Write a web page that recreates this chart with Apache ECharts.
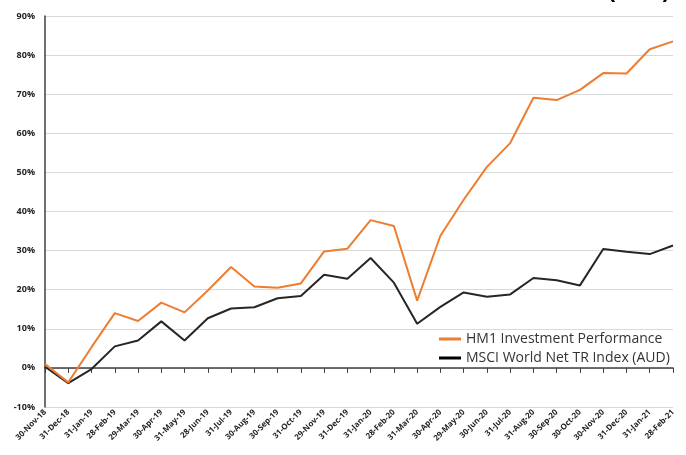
<!DOCTYPE html>
<html>
<head>
<meta charset="utf-8">
<script src="https://cdn.jsdelivr.net/npm/echarts@6/dist/echarts.min.js"></script>
<style>html,body{margin:0;padding:0;background:#fff}#c{width:686px;height:455px}</style>
</head>
<body>
<div id="c"></div>
<script>
var categories = ["30-Nov-18","31-Dec-18","31-Jan-19","28-Feb-19","29-Mar-19","30-Apr-19","31-May-19","28-Jun-19","31-Jul-19","30-Aug-19","30-Sep-19","31-Oct-19","29-Nov-19","31-Dec-19","31-Jan-20","28-Feb-20","31-Mar-20","30-Apr-20","29-May-20","30-Jun-20","31-Jul-20","31-Aug-20","30-Sep-20","30-Oct-20","30-Nov-20","31-Dec-20","31-Jan-21","28-Feb-21"];
var hm1 = [1.0,-3.7,5.3,14.0,12.0,16.7,14.2,19.8,25.8,20.8,20.5,21.6,29.8,30.5,37.8,36.3,17.2,33.8,43.0,51.4,57.5,69.1,68.5,71.1,75.4,75.3,81.5,83.5];
var msci = [0.3,-3.9,-0.3,5.5,7.0,11.9,7.0,12.7,15.2,15.5,17.8,18.4,23.8,22.8,28.1,21.8,11.3,15.6,19.3,18.2,18.8,23.0,22.4,21.1,30.4,29.7,29.1,31.3];
var yTicks = {min:-10, max:90, interval:10};
var seriesNames = ["HM1 Investment Performance","MSCI World Net TR Index (AUD)"];

var chart = echarts.init(document.getElementById('c'));
chart.setOption({
  animation:false,
  backgroundColor:'#ffffff',
  graphic:[{type:'text', right:16, top:-20.5, z:100, style:{text:'(AUD)', font:'bold 22px "Liberation Sans"', fill:'#000'}}],
  grid:{left:45, right:13, top:16, bottom:48, containLabel:false},
  legend:{
    orient:'vertical', left:434, top:327, itemGap:5, itemWidth:22, itemHeight:3,
    icon:'rect',
    textStyle:{fontFamily:'"Open Sans"', fontSize:14, color:'#333'},
    data:seriesNames
  },
  xAxis:[{
    type:'category', data:categories, boundaryGap:false, position:'bottom',
    axisLine:{show:false, onZero:false}, axisTick:{show:false},
    axisLabel:{rotate:45, fontSize:8, fontWeight:'bold', color:'#222', margin:4, interval:0, fontFamily:'"Open Sans"'},
    splitLine:{show:false}
  },{
    type:'category', data:categories, boundaryGap:false, position:'top',
    axisLine:{show:true, onZero:true, lineStyle:{color:'#404040', width:1.5}},
    axisTick:{show:true, inside:true, length:5, interval:0, lineStyle:{color:'#404040'}},
    axisLabel:{show:false}, splitLine:{show:false}
  }],
  yAxis:{
    type:'value', min:yTicks.min, max:yTicks.max, interval:yTicks.interval,
    axisLine:{show:true, lineStyle:{color:'#404040', width:1.5}},
    axisTick:{show:false},
    axisLabel:{formatter:'{value}%', fontSize:9, fontWeight:'bold', color:'#222', margin:10, fontFamily:'"Open Sans"'},
    splitLine:{lineStyle:{color:'#d9d9d9', width:1}}
  },
  series:[
    {name:seriesNames[0], type:'line', data:hm1, symbol:'none', lineStyle:{color:'#ED7D31', width:2}, itemStyle:{color:'#ED7D31'}, z:3},
    {name:seriesNames[1], type:'line', data:msci, symbol:'none', lineStyle:{color:'#262626', width:2}, itemStyle:{color:'#000'}, z:2}
  ]
});
</script>
</body>
</html>
